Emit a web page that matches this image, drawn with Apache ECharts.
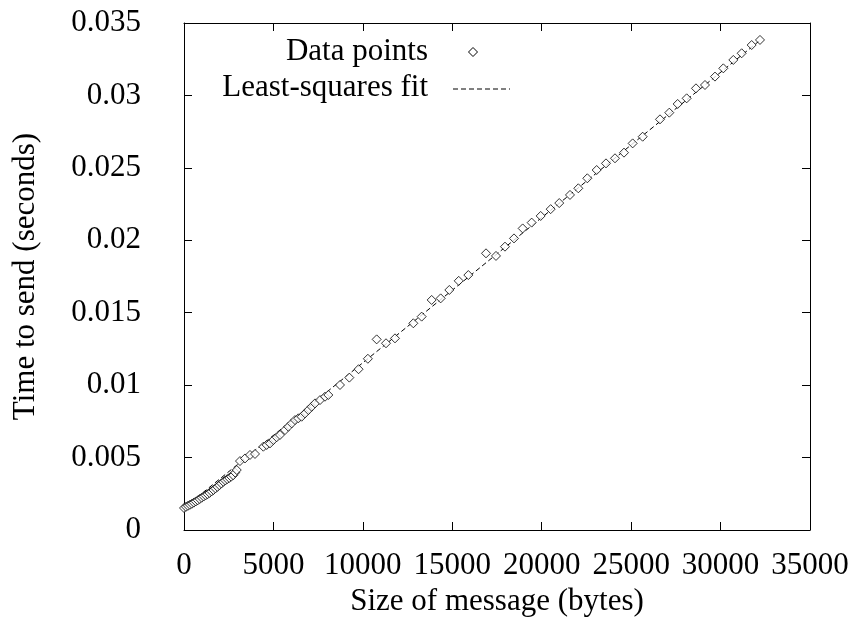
<!DOCTYPE html>
<html>
<head>
<meta charset="utf-8">
<script src="https://cdn.jsdelivr.net/npm/echarts@6/dist/echarts.min.js"></script>
<style>html,body{margin:0;padding:0;background:#fff}#c{width:853px;height:617px}</style>
</head>
<body>
<div id="c"></div>
<script>
// Message sizes (bytes)
const sizes = [
  0,110,220,330,440,550,660,770,880,990,1100,1210,1320,1430,1540,1650,1760,1870,1980,2090,2200,2310,2420,2530,2640,2750,2860,2950,
  3130,3410,3690,3970,
  4436,4622,4808,4995,5181,5367,5647,5833,6020,6206,6392,6579,6765,6951,7138,7324,7604,7883,8070,
  8722,9244,9760,10280,10772,11294,11797,12822,13288,13847,14350,14834,15360,15897,16885,17444,17947,18450,18935,19438,19941,
  20500,20980,21581,22047,22550,23072,23594,24097,24600,25085,25644,26613,27134,27600,28104,28625,29129,29688,30154,30713,31179,31738,32204
];
// Time to send (seconds)
const times = [
  0.00152,0.00160,0.00167,0.00174,0.00181,0.00189,0.00197,0.00205,0.00214,0.00223,0.00231,0.00239,0.00247,0.00256,0.00266,0.00276,0.00287,0.00298,0.00309,0.00321,0.00333,0.00342,0.00351,0.00359,0.00368,0.00378,0.00396,0.00414,
  0.00476,0.00494,0.00518,0.00525,
  0.00575,0.00587,0.00598,0.00621,0.00640,0.00656,0.00690,0.00713,0.00736,0.00759,0.00771,0.00782,0.00805,0.00828,0.00851,0.00874,0.00897,0.00920,0.00932,
  0.01001,0.01052,0.01110,0.01182,0.01316,0.01289,0.01323,0.01427,0.01473,0.01588,0.01599,0.01657,0.01720,0.01760,0.01910,0.01892,0.01956,0.02013,0.02082,0.02122,0.02168,
  0.02215,0.02257,0.02313,0.02359,0.02428,0.02485,0.02531,0.02566,0.02605,0.02669,0.02715,0.02835,0.02881,0.02941,0.02980,0.03049,0.03072,0.03130,0.03187,0.03245,0.03291,0.03348,0.03383
];
// Least-squares fit line endpoints
const fitX = [0, 32300];
const fitY = [0.00152, 0.0339];

const xTicks = [0,5000,10000,15000,20000,25000,30000,35000];
const yTicks = [0,0.005,0.01,0.015,0.02,0.025,0.03,0.035];

const FONT = 'Liberation Serif';
const FS = 31;

const points = sizes.map((s,i)=>[s,times[i]]);
const fitLine = fitX.map((s,i)=>[s,fitY[i]]);

const axisCommon = {
  type:'value',
  splitLine:{show:false},
  axisLine:{show:true,onZero:false,lineStyle:{color:'#000',width:1}},
  axisTick:{show:true,inside:true,length:8,lineStyle:{color:'#000',width:1}}
};

const chart = echarts.init(document.getElementById('c'),null,{renderer:'canvas'});
chart.setOption({
  animation:false,
  backgroundColor:'#fff',
  grid:{left:184,right:43,top:23,bottom:87,containLabel:false,outerBoundsMode:'none'},
  xAxis:[
    Object.assign({},axisCommon,{
      position:'bottom',min:xTicks[0],max:xTicks[xTicks.length-1],interval:xTicks[1]-xTicks[0],
      name:'Size of message (bytes)',nameLocation:'middle',nameGap:51,
      nameTextStyle:{fontFamily:FONT,fontSize:FS,color:'#000'},
      axisLabel:{fontFamily:FONT,fontSize:FS,color:'#000',margin:20,formatter:v=>String(v)}
    }),
    Object.assign({},axisCommon,{
      position:'top',min:xTicks[0],max:xTicks[xTicks.length-1],interval:xTicks[1]-xTicks[0],
      axisLabel:{show:false}
    })
  ],
  yAxis:[
    Object.assign({},axisCommon,{
      position:'left',min:yTicks[0],max:yTicks[yTicks.length-1],interval:0.005,
      name:'Time to send (seconds)',nameLocation:'middle',nameGap:143,nameRotate:90,
      nameTextStyle:{fontFamily:FONT,fontSize:FS,color:'#000'},
      axisLabel:{fontFamily:FONT,fontSize:FS,color:'#000',margin:43,formatter:v=>String(+v.toFixed(3))}
    }),
    Object.assign({},axisCommon,{
      position:'right',min:yTicks[0],max:yTicks[yTicks.length-1],interval:0.005,
      axisLabel:{show:false}
    })
  ],
  series:[
    {
      name:'Least-squares fit',type:'line',data:fitLine,showSymbol:false,symbol:'none',
      lineStyle:{color:'#000',width:1,type:[5,3]},z:1
    },
    {
      name:'Data points',type:'scatter',data:points,symbol:'diamond',symbolSize:9,
      itemStyle:{color:'#fff',borderColor:'#000',borderWidth:1},z:2
    }
  ],
  graphic:[
    {type:'text',style:{x:428,y:52,text:'Data points',font:FS+'px '+FONT,fill:'#000',align:'right',verticalAlign:'middle'}},
    {type:'text',style:{x:428,y:88,text:'Least-squares fit',font:FS+'px '+FONT,fill:'#000',align:'right',verticalAlign:'middle'}},
    {type:'polygon',shape:{points:[[473,47.5],[477.5,52],[473,56.5],[468.5,52]]},style:{fill:'#fff',stroke:'#000',lineWidth:1}},
    {type:'line',shape:{x1:453,y1:89,x2:510,y2:89},style:{stroke:'#000',lineWidth:1,lineDash:[5,3]}}
  ]
});
</script>
</body>
</html>
